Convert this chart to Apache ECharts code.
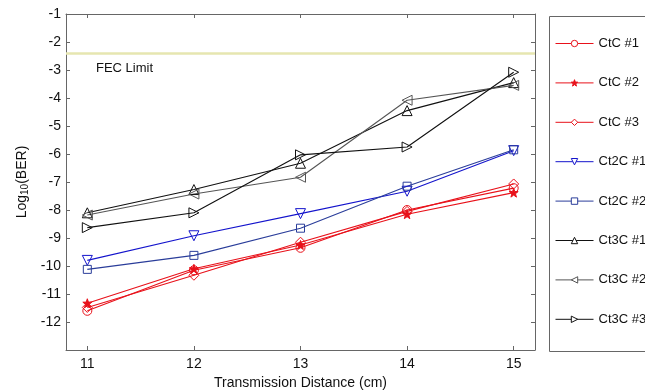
<!DOCTYPE html>
<html>
<head>
<meta charset="utf-8">
<script src="https://cdn.jsdelivr.net/npm/echarts@6/dist/echarts.min.js"></script>
<style>html,body{margin:0;padding:0;background:#fff}#c{width:645px;height:390px}</style>
</head>
<body>
<div id="c"></div>
<script>
var distances = [11, 12, 13, 14, 15];
var ctc1  = [-11.6, -10.15, -9.35, -8.0, -7.22];
var ctc2  = [-11.33, -10.1, -9.25, -8.15, -7.38];
var ctc3  = [-11.48, -10.33, -9.15, -8.05, -7.07];
var ct2c1 = [-9.8, -8.92, -8.13, -7.33, -5.88];
var ct2c2 = [-10.12, -9.62, -8.65, -7.15, -5.85];
var ct3c1 = [-8.1, -7.27, -6.33, -4.45, -3.45];
var ct3c2 = [-8.18, -7.43, -6.83, -4.08, -3.55];
var ct3c3 = [-8.63, -8.1, -6.03, -5.75, -3.08];
var fecLimit = -2.4;
var xTicks = [11, 12, 13, 14, 15];
var seriesNames = ['CtC #1','CtC #2','CtC #3','Ct2C #1','Ct2C #2','Ct3C #1','Ct3C #2','Ct3C #3'];

var STAR = 'path://M0,-10 L2.35,-3.24 L9.51,-3.09 L3.8,1.24 L5.88,8.09 L0,4 L-5.88,8.09 L-3.8,1.24 L-9.51,-3.09 L-2.35,-3.24 Z';

function pairs(arr){ return distances.map(function(d,i){ return [d, arr[i]]; }); }
function mk(name, arr, color, symbol, rot, size, filled){
  return {
    name: name, type: 'line', data: pairs(arr),
    symbol: symbol, symbolSize: size, symbolRotate: rot || 0,
    showAllSymbol: true,
    lineStyle: {color: color, width: 1.1},
    itemStyle: {color: filled ? color : 'rgba(255,255,255,0)', borderColor: color, borderWidth: 1},
    emphasis: {disabled: true},
    animation: false, z: 3
  };
}

var series = [
  mk(seriesNames[0], ctc1, '#e8111a', 'circle', 0, 9, false),
  mk(seriesNames[1], ctc2, '#e8111a', STAR, 0, 9, true),
  mk(seriesNames[2], ctc3, '#e8111a', 'diamond', 0, 10, false),
  mk(seriesNames[3], ct2c1, '#1414cc', 'triangle', 180, 10, false),
  mk(seriesNames[4], ct2c2, '#2a3d9a', 'rect', 0, 8, false),
  mk(seriesNames[5], ct3c1, '#111111', 'triangle', 0, 10, false),
  mk(seriesNames[6], ct3c2, '#555555', 'triangle', 90, 10, false),
  mk(seriesNames[7], ct3c3, '#111111', 'triangle', -90, 10, false)
];
series.push({
  name: 'FEC', type: 'line', data: [], silent: true,
  markLine: {
    silent: true, symbol: ['none','none'], animation: false,
    label: {show: false},
    lineStyle: {color: '#e6e6b0', width: 2.5, type: 'solid'},
    data: [{yAxis: fecLimit}]
  }
});

var legendData = seriesNames.map(function(n, i){
  var s = series[i];
  return {name: n, itemStyle: {color: i === 1 ? s.lineStyle.color : '#ffffff', borderColor: s.lineStyle.color, borderWidth: 1}};
});

var chart = echarts.init(document.getElementById('c'), null, {renderer: 'canvas'});
var FONT = 'Liberation Sans, Arial, sans-serif';
chart.setOption({
  animation: false,
  textStyle: {fontFamily: FONT},
  grid: {left: 66, right: 110, top: 14, bottom: 40, show: false, outerBoundsMode: 'none', containLabel: false},
  xAxis: [{
    type: 'value', min: 10.8, max: 15.2,
    name: 'Transmission Distance (cm)', nameLocation: 'middle', nameGap: 24,
    nameTextStyle: {fontSize: 14, color: '#111', fontFamily: FONT},
    axisLine: {show: true, lineStyle: {color: '#666', width: 1}},
    axisTick: {show: true, inside: true, length: 4, customValues: xTicks, lineStyle: {color: '#666'}},
    axisLabel: {customValues: xTicks, fontSize: 14, color: '#111', margin: 7, fontFamily: FONT},
    splitLine: {show: false}
  }, {
    type: 'value', min: 10.8, max: 15.2, position: 'top',
    axisLine: {show: true, lineStyle: {color: '#666', width: 1}},
    axisTick: {show: true, inside: true, length: 4, customValues: xTicks, lineStyle: {color: '#666'}},
    axisLabel: {show: false}, splitLine: {show: false}
  }],
  yAxis: [{
    type: 'value', min: -13, max: -1, interval: 1,
    name: 'Log{sub|10}(BER)', nameLocation: 'middle', nameGap: 35,
    nameTextStyle: {fontSize: 14, color: '#111', fontFamily: FONT,
      rich: {sub: {fontSize: 10, verticalAlign: 'bottom', padding: [6,0,0,0], color: '#111', fontFamily: FONT}}},
    axisLine: {show: true, lineStyle: {color: '#666', width: 1}},
    axisTick: {show: true, inside: true, length: 4, lineStyle: {color: '#666'}},
    axisLabel: {fontSize: 14, color: '#111', margin: 5, fontFamily: FONT,
      formatter: function(v){ return v === -13 ? '' : String(v); }},
    splitLine: {show: false}
  }, {
    type: 'value', min: -13, max: -1, interval: 1, position: 'right',
    axisLine: {show: true, lineStyle: {color: '#666', width: 1}},
    axisTick: {show: true, inside: true, length: 4, lineStyle: {color: '#666'}},
    axisLabel: {show: false}, splitLine: {show: false}
  }],
  legend: {
    orient: 'vertical', left: 555, top: 37, padding: 0,
    itemWidth: 38, itemHeight: 8, itemGap: 26.4,
    data: legendData,
    lineStyle: {width: 1},
    textStyle: {fontSize: 13, color: '#111', fontFamily: FONT},
    selectedMode: false
  },
  graphic: [
    {type: 'rect', left: 547, top: 14, shape: {width: 120, height: 335},
     style: {fill: 'none', stroke: '#666', lineWidth: 1}, silent: true},
    {type: 'text', left: 96, top: 62,
     style: {text: 'FEC Limit', fontSize: 13, fill: '#111', fontFamily: FONT}}
  ],
  series: series
});
</script>
</body>
</html>
